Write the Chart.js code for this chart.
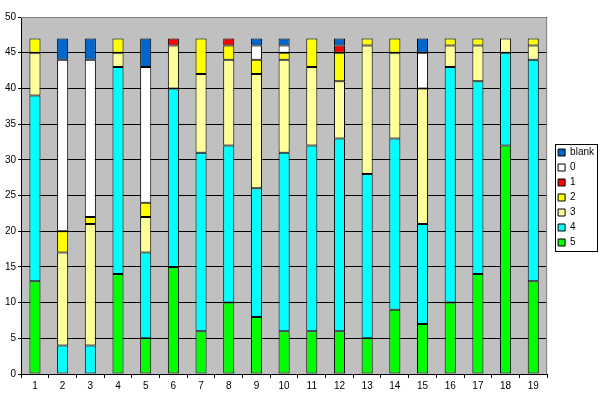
<!DOCTYPE html>
<html>
<head>
<meta charset="utf-8">
<script src="https://cdn.jsdelivr.net/npm/chart.js@4/dist/chart.umd.min.js"></script>
<style>
html,body{margin:0;padding:0;background:#fff;}
#wrap{width:602px;height:398px;position:relative;}
</style>
</head>
<body>
<div id="wrap"><canvas id="c" width="602" height="398"></canvas></div>
<script>
const categories = ['1','2','3','4','5','6','7','8','9','10','11','12','13','14','15','16','17','18','19'];
const yTicks = [0,5,10,15,20,25,30,35,40,45,50];
const s5     = [13, 0, 0,14, 5,15, 6,10, 8, 6, 6, 6, 5, 9, 7,10,14,32,13];
const s4     = [26, 4, 4,29,12,25,25,22,18,25,26,27,23,24,14,33,27,13,31];
const s3     = [ 6,13,17, 2, 5, 6,11,12,16,13,11, 8,18,12,19, 3, 5, 2, 2];
const s2     = [ 2, 3, 1, 2, 2, 0, 5, 2, 2, 1, 4, 4, 1, 2, 0, 1, 1, 0, 1];
const s1     = [ 0, 0, 0, 0, 0, 1, 0, 1, 0, 0, 0, 1, 0, 0, 0, 0, 0, 0, 0];
const s0     = [ 0,24,22, 0,19, 0, 0, 0, 2, 1, 0, 0, 0, 0, 5, 0, 0, 0, 0];
const sBlank = [ 0, 3, 3, 0, 4, 0, 0, 0, 1, 1, 0, 1, 0, 0, 2, 0, 0, 0, 0];

const seriesNames = ['5','4','3','2','1','0','blank'];
const seriesData = [s5,s4,s3,s2,s1,s0,sBlank];
const seriesColors = ['#00FF00','#00FFFF','#FFFF99','#FFFF00','#FF0000','#FFFFFF','#0066CC'];

const FONT = 'Liberation Sans';
const LEG_DX = 6, LEG_DY = -8;

const bgPlugin = {
  id:'bg',
  afterUpdate(chart){
    const l = chart.legend;
    if(!l) return;
    l.left += LEG_DX; l.right += LEG_DX;
    l.top += LEG_DY; l.bottom += LEG_DY;
  },
  beforeDraw(chart){
    const {ctx, chartArea:a} = chart;
    ctx.save();
    ctx.fillStyle = '#C0C0C0';
    ctx.fillRect(a.left, a.top, a.right-a.left, a.bottom-a.top);
    ctx.restore();
  },
  afterDatasetsDraw(chart){
    const {ctx, chartArea:a} = chart;
    ctx.save();
    ctx.strokeStyle = '#808080';
    ctx.lineWidth = 1;
    ctx.beginPath();
    ctx.moveTo(a.left, a.top+0.5);
    ctx.lineTo(a.right-0.5, a.top+0.5);
    ctx.lineTo(a.right-0.5, a.bottom);
    ctx.stroke();
    ctx.restore();
  },
  afterDraw(chart){
    const l = chart.legend;
    if(!l || !l.legendHitBoxes || !l.legendHitBoxes.length) return;
    const hb = l.legendHitBoxes;
    let x0=Infinity,y0=Infinity,x1=-Infinity,y1=-Infinity;
    hb.forEach(b=>{x0=Math.min(x0,b.left);y0=Math.min(y0,b.top);x1=Math.max(x1,b.left+b.width);y1=Math.max(y1,b.top+b.height);});
    x0+=LEG_DX; x1+=LEG_DX; y0+=LEG_DY; y1+=LEG_DY;
    const ctx = chart.ctx;
    ctx.save();
    ctx.strokeStyle = '#000';
    ctx.lineWidth = 1;
    const L=Math.round(x0-3)+0.5, T=Math.round(y0-4)+0.5, R=Math.round(x1+3)+0.5, B=Math.round(y1+3)+0.5;
    ctx.strokeRect(L,T,R-L,B-T);
    ctx.restore();
  }
};

new Chart(document.getElementById('c'), {
  type:'bar',
  data:{
    labels: categories,
    datasets: seriesNames.map((n,i)=>({
      label:n,
      data:seriesData[i].map(v=>v===0?null:v),
      backgroundColor:seriesColors[i],
      borderColor:'#000',
      borderWidth:1,
      borderSkipped:false,
      barPercentage:0.4,
      categoryPercentage:1.0
    }))
  },
  options:{
    responsive:false,
    animation:false,
    devicePixelRatio:1,
    layout:{padding:{left:3,right:4,top:17,bottom:4}},
    plugins:{
      tooltip:{enabled:false},
      legend:{
        position:'right',
        reverse:true,
        labels:{
          boxWidth:7, boxHeight:7,
          padding:5,
          color:'#000',
          font:{family:FONT,size:10},
          generateLabels(chart){
            return chart.data.datasets.map((d,i)=>({
              text:d.label, fillStyle:d.backgroundColor, strokeStyle:'#000', lineWidth:1,
              hidden:false, datasetIndex:i, fontColor:'#000'
            }));
          }
        }
      }
    },
    scales:{
      x:{
        stacked:true,
        border:{display:true,color:'#000',width:1},
        grid:{display:true,drawOnChartArea:false,drawTicks:true,tickLength:4,color:'#000',offset:true},
        ticks:{color:'#000',font:{family:FONT,size:10},maxRotation:0,autoSkip:false,padding:2}
      },
      y:{
        stacked:true,
        min:0,max:50,
        border:{display:true,color:'#000',width:1},
        grid:{color:'#000',drawTicks:true,tickLength:3},
        afterBuildTicks(axis){ axis.ticks = yTicks.map(v=>({value:v})); },
        ticks:{color:'#000',font:{family:FONT,size:10},padding:2}
      }
    }
  },
  plugins:[bgPlugin]
});
</script>
</body>
</html>
